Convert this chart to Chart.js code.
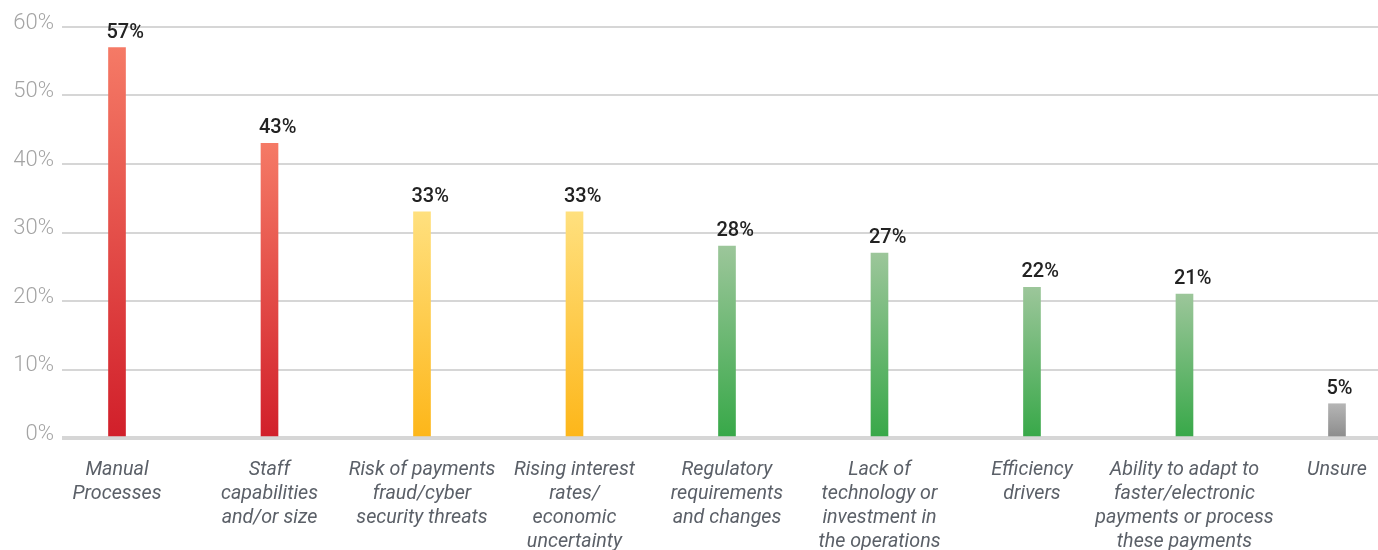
<!DOCTYPE html>
<html>
<head>
<meta charset="utf-8">
<script src="https://cdn.jsdelivr.net/npm/chart.js@4.4.1/dist/chart.umd.min.js"></script>
<style>
  html, body { margin: 0; padding: 0; background: #ffffff; }
  #wrap { width: 1378px; height: 550px; position: relative; }
</style>
</head>
<body>
<div id="wrap"><canvas id="chart"></canvas></div>
<script>
// Challenges cited, share of respondents (%)
const categories = [
  ['Manual', 'Processes'],
  ['Staff', 'capabilities', 'and/or size'],
  ['Risk of payments', 'fraud/cyber', 'security threats'],
  ['Rising interest', 'rates/', 'economic', 'uncertainty'],
  ['Regulatory', 'requirements', 'and changes'],
  ['Lack of', 'technology or', 'investment in', 'the operations'],
  ['Efficiency', 'drivers'],
  ['Ability to adapt to', 'faster/electronic', 'payments or process', 'these payments'],
  ['Unsure']
];
const shares = [57, 43, 33, 33, 28, 27, 22, 21, 5];
const groups = ['high', 'high', 'mid', 'mid', 'low', 'low', 'low', 'low', 'none'];
const yTicks = [0, 10, 20, 30, 40, 50, 60];

// top -> bottom gradient stops for each group
const palette = {
  high: ['#f57a66', '#d11f2a'],
  mid:  ['#ffe07e', '#fdb619'],
  low:  ['#9cc69a', '#37a848'],
  none: ['#b5b5b5', '#8b8b8b']
};

function barFill(ctx) {
  const chart = ctx.chart;
  const g = palette[groups[ctx.dataIndex]] || palette.none;
  if (!chart.chartArea || ctx.type !== 'data') return g[1];
  const y = chart.scales.y;
  const top = y.getPixelForValue(shares[ctx.dataIndex]);
  const bottom = y.getPixelForValue(0);
  const grad = chart.ctx.createLinearGradient(0, top, 0, bottom);
  grad.addColorStop(0, g[0]);
  grad.addColorStop(1, g[1]);
  return grad;
}

// value labels above each bar, starting just left of the bar edge
const valueLabels = {
  id: 'valueLabels',
  afterDatasetsDraw(chart) {
    const c = chart.ctx;
    const meta = chart.getDatasetMeta(0);
    c.save();
    c.font = '500 20px Roboto';
    c.fillStyle = '#222222';
    c.textAlign = 'left';
    c.textBaseline = 'bottom';
    meta.data.forEach((bar, i) => {
      c.fillText(shares[i] + '%', bar.x - bar.width / 2 - 2, bar.y - 5);
    });
    c.restore();
  }
};

new Chart(document.getElementById('chart'), {
  type: 'bar',
  data: {
    datasets: [{
      data: shares.map((v, i) => ({ x: i, y: v })),
      backgroundColor: barFill,
      borderWidth: 0,
      barThickness: 17
    }]
  },
  options: {
    responsive: true,
    maintainAspectRatio: false,
    animation: false,
    layout: { padding: { top: 27, right: 0, left: 0, bottom: 0 } },
    plugins: { legend: { display: false }, tooltip: { enabled: false } },
    scales: {
      x: {
        type: 'linear',
        offset: false,
        min: -0.3607,
        max: 8.269,
        afterBuildTicks(scale) {
          scale.ticks = categories.map((_, i) => ({ value: i }));
        },
        afterFit(scale) {
          scale.height = 112;
          scale.paddingLeft = 0;
          scale.paddingRight = 0;
        },
        grid: { display: false, drawTicks: false, offset: false },
        border: { display: false },
        ticks: {
          autoSkip: false,
          maxRotation: 0,
          minRotation: 0,
          padding: 20,
          color: '#5b6068',
          font: { family: 'Roboto', size: 19.7, style: 'italic', lineHeight: '24px' },
          callback: (v) => categories[v] || ''
        }
      },
      y: {
        min: 0,
        max: 60,
        afterBuildTicks(scale) {
          scale.ticks = yTicks.map(v => ({ value: v }));
        },
        afterFit(scale) { scale.width = 62; },
        border: { display: false },
        grid: {
          drawTicks: false,
          color: '#d6d6d6',
          lineWidth: (ctx) => (ctx.tick && ctx.tick.value === 0 ? 4 : 2)
        },
        ticks: {
          padding: 8,
          labelOffset: -4,
          color: '#a4a4a4',
          font: { family: 'Roboto', size: 22, weight: 300 },
          callback: (v) => v + '%'
        }
      }
    }
  },
  plugins: [valueLabels]
});
</script>
</body>
</html>
